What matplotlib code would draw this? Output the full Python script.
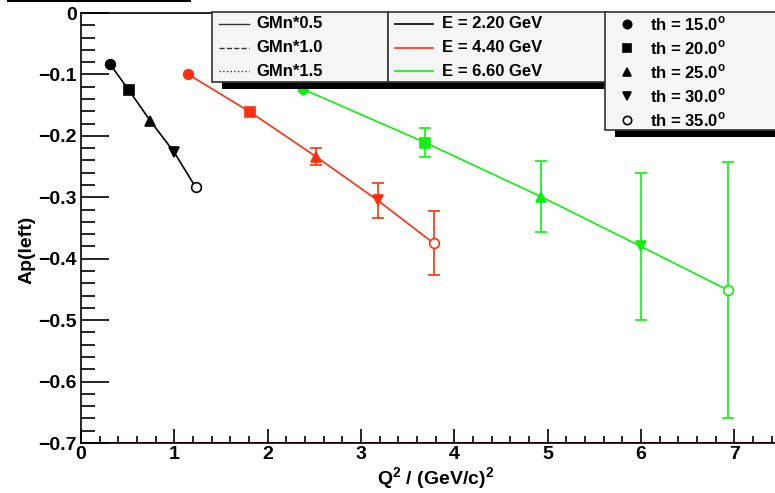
import matplotlib.pyplot as plt
from matplotlib.patches import Rectangle
from matplotlib.lines import Line2D

plt.rcParams['font.family'] = ['Liberation Sans', 'DejaVu Sans']
plt.rcParams['font.weight'] = 'bold'

# Q^2 and Ap(left) per beam energy, points ordered th = 15..35 deg
q2_22 = [0.31, 0.51, 0.74, 1.00, 1.23]
ap_22 = [-0.083, -0.125, -0.175, -0.227, -0.284]
err_22 = [0.0, 0.0, 0.0, 0.0, 0.0]

q2_44 = [1.15, 1.81, 2.52, 3.18, 3.78]
ap_44 = [-0.100, -0.161, -0.234, -0.305, -0.375]
err_44 = [0.0, 0.0, 0.014, 0.028, 0.052]

q2_66 = [2.38, 3.69, 4.93, 6.00, 6.93]
ap_66 = [-0.124, -0.211, -0.299, -0.380, -0.451]
err_66 = [0.0, 0.024, 0.058, 0.119, 0.208]

energies = ['E = 2.20 GeV', 'E = 4.40 GeV', 'E = 6.60 GeV']
colors = ['black', '#ff3010', '#10f010']
gmn_labels = ['GMn*0.5', 'GMn*1.0', 'GMn*1.5']
gmn_styles = ['-', '--', ':']
th_labels = ['th = 15.0$^\\mathregular{o}$', 'th = 20.0$^\\mathregular{o}$',
             'th = 25.0$^\\mathregular{o}$', 'th = 30.0$^\\mathregular{o}$',
             'th = 35.0$^\\mathregular{o}$']
markers = ['o', 's', '^', 'v', 'o']
filled = [True, True, True, True, False]

W, H = 775, 493
fig = plt.figure(figsize=(W / 100, H / 100), dpi=100)


def fx(px):
    return px / W


def fy(py):
    return 1 - py / H


ax = fig.add_axes([fx(81), fy(443), fx(779) - fx(81), fy(13) - fy(443)])
ax.set_xlim(0, 7.48)
ax.set_ylim(-0.7, 0)

for q2, ap, err, c in zip([q2_22, q2_44, q2_66], [ap_22, ap_44, ap_66],
                          [err_22, err_44, err_66], colors):
    ax.plot(q2, ap, '-', color=c, lw=1.2, zorder=2)
    for i in range(len(q2)):
        if err[i] > 0:
            ax.errorbar(q2[i], ap[i], yerr=err[i], fmt='none', ecolor=c,
                        elinewidth=1.2, capsize=4, capthick=1.2, zorder=2)
        ax.plot(q2[i], ap[i], marker=markers[i], ms=7 if i != 3 else 7.5,
                color=c, mfc=c if filled[i] else 'white', mew=1.2,
                linestyle='none', zorder=3)

ax.axhline(-0.7, color='#b01800', lw=1.5, zorder=1)

ax.set_xticks(range(0, 8))
ax.set_xticks([i * 0.2 for i in range(0, 38)], minor=True)
ax.set_yticks([-0.7, -0.6, -0.5, -0.4, -0.3, -0.2, -0.1, 0])
ax.set_yticklabels(['\u22120.7', '\u22120.6', '\u22120.5', '\u22120.4',
                    '\u22120.3', '\u22120.2', '\u22120.1', '0'])
ax.set_yticks([-0.7 + i * 0.02 for i in range(36)], minor=True)
ax.tick_params(axis='x', which='major', direction='in', length=10, width=1.2,
               labelsize=14, pad=2)
ax.tick_params(axis='x', which='minor', direction='in', length=5, width=1.2)
ax.tick_params(axis='y', which='major', direction='in', length=20, width=1.2,
               labelsize=14, pad=3)
ax.tick_params(axis='y', which='minor', direction='in', length=10, width=1.2)
for s in ax.spines.values():
    s.set_linewidth(1.2)

fig.text(fx(436), fy(479), 'Q$^\\mathregular{2}$ / (GeV/c)$^\\mathregular{2}$',
         ha='center', va='center', fontsize=14, fontweight='bold')
fig.text(fx(27), fy(250), 'Ap(left)', rotation=90, ha='center', va='center',
         fontsize=14, fontweight='bold')

# partial title frame at top
fig.add_artist(Line2D([fx(8), fx(190)], [fy(1), fy(1)], color='black', lw=1.5,
                      transform=fig.transFigure))


def pave(x0, y0, x1, y1, z):
    fig.add_artist(Rectangle((fx(x0 + 10), fy(y1 + 7)), fx(x1) - fx(x0), fy(y0) - fy(y1),
                             transform=fig.transFigure, facecolor='black',
                             edgecolor='none', zorder=z))
    fig.add_artist(Rectangle((fx(x0), fy(y1)), fx(x1) - fx(x0), fy(y0) - fy(y1),
                             transform=fig.transFigure, facecolor='#f5f5f5',
                             edgecolor='#333333', lw=1.2, zorder=z + 0.1))


pave(212, 12, 388, 82, 10)
pave(388, 12, 606, 82, 11)
pave(605, 12, 790, 130, 12)

rows = [24, 48, 71]
for i, (lab, ls) in enumerate(zip(gmn_labels, gmn_styles)):
    fig.add_artist(Line2D([fx(219), fx(249)], [fy(rows[i])] * 2, color='#333333',
                          lw=1, ls=ls, transform=fig.transFigure, zorder=10.5))
    fig.text(fx(256), fy(rows[i]), lab, fontsize=12, fontweight='bold',
             va='center', zorder=10.5)
for i, (lab, c) in enumerate(zip(energies, colors)):
    fig.add_artist(Line2D([fx(395), fx(433)], [fy(rows[i])] * 2, color=c,
                          lw=1.2, transform=fig.transFigure, zorder=11.5))
    fig.text(fx(442), fy(rows[i]), lab, fontsize=12, fontweight='bold',
             va='center', zorder=11.5)
th_rows = [24, 48, 72, 96, 120]
for i, lab in enumerate(th_labels):
    fig.add_artist(Line2D([fx(627)], [fy(th_rows[i])], marker=markers[i], ms=6,
                          color='black', mfc='black' if filled[i] else 'white',
                          mew=1.2, transform=fig.transFigure, zorder=12.5))
    fig.text(fx(650), fy(th_rows[i]), lab, fontsize=12, fontweight='bold',
             va='center', zorder=12.5)

fig.savefig('out.png', dpi=100)
